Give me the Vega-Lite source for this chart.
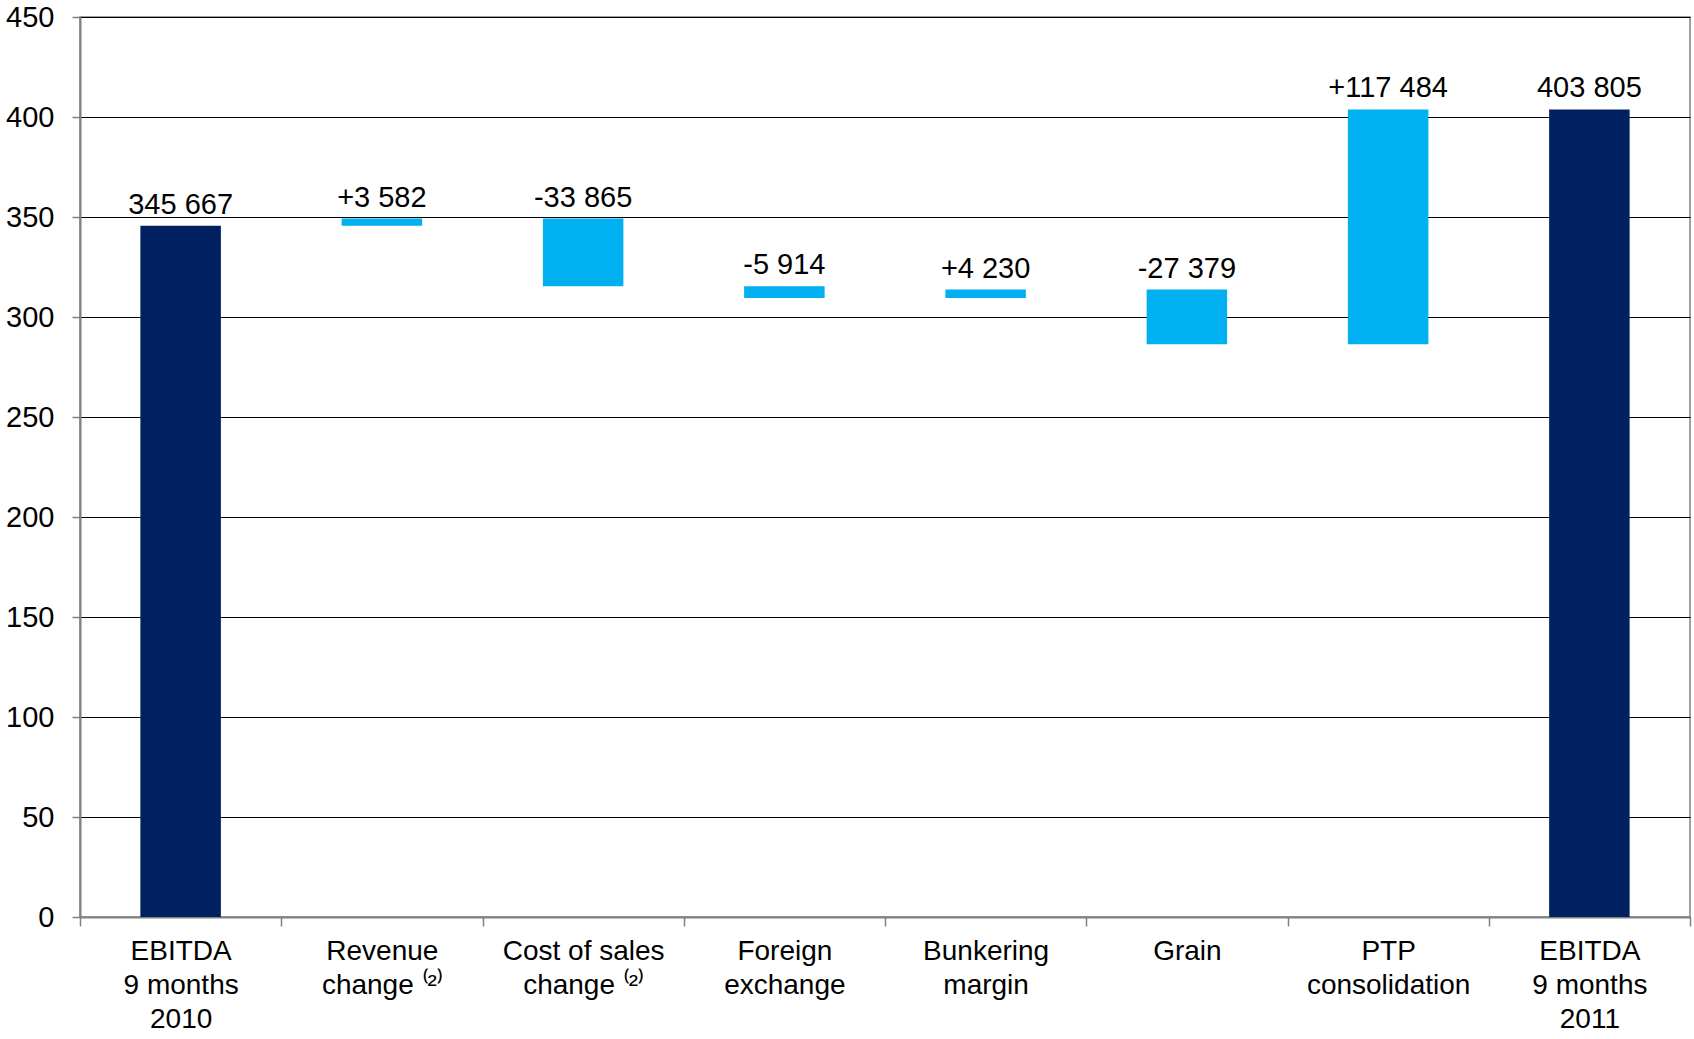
{
  "$schema": "https://vega.github.io/schema/vega-lite/v6.json",
  "width": 1610,
  "height": 900,
  "autosize": "none",
  "padding": {"left": 80, "top": 17, "right": 4, "bottom": 122},
  "background": "white",
  "config": {
    "view": {"stroke": "#808080", "strokeWidth": 1.5},
    "font": "Liberation Sans"
  },
  "data": {
    "values": [
      {"cat": "EBITDA|9 months|2010", "start": 0, "end": 345.667, "top": 345.667, "label": "345 667", "kind": "total"},
      {"cat": "Revenue|change ⁽²⁾", "start": 345.667, "end": 349.249, "top": 349.249, "label": "+3 582", "kind": "change"},
      {"cat": "Cost of sales|change ⁽²⁾", "start": 349.249, "end": 315.384, "top": 349.249, "label": "-33 865", "kind": "change"},
      {"cat": "Foreign|exchange", "start": 315.384, "end": 309.47, "top": 315.384, "label": "-5 914", "kind": "change"},
      {"cat": "Bunkering|margin", "start": 309.47, "end": 313.7, "top": 313.7, "label": "+4 230", "kind": "change"},
      {"cat": "Grain", "start": 313.7, "end": 286.321, "top": 313.7, "label": "-27 379", "kind": "change"},
      {"cat": "PTP|consolidation", "start": 286.321, "end": 403.805, "top": 403.805, "label": "+117 484", "kind": "change"},
      {"cat": "EBITDA|9 months|2011", "start": 0, "end": 403.805, "top": 403.805, "label": "403 805", "kind": "total"}
    ]
  },
  "encoding": {
    "x": {
      "field": "cat",
      "type": "nominal",
      "sort": null,
      "scale": {"paddingInner": 0, "paddingOuter": 0},
      "axis": {
        "title": null,
        "labelAngle": 0,
        "labelExpr": "split(datum.label, '|')",
        "labelFont": "Liberation Sans",
        "labelFontSize": 28,
        "labelLineHeight": 34,
        "labelColor": "black",
        "labelBaseline": "top",
        "labelPadding": 11,
        "tickBand": "extent",
        "tickSize": 9,
        "tickColor": "#808080",
        "tickWidth": 1.5,
        "domainColor": "#808080",
        "domainWidth": 2,
        "grid": false
      }
    }
  },
  "layer": [
    {
      "mark": {"type": "bar", "width": {"band": 0.4}},
      "encoding": {
        "y": {
          "field": "start",
          "type": "quantitative",
          "scale": {"domain": [0, 450], "nice": false, "zero": true},
          "axis": {
            "title": null,
            "values": [0, 50, 100, 150, 200, 250, 300, 350, 400, 450],
            "labelFontSize": 29,
            "labelColor": "black",
            "labelPadding": 18,
            "tickSize": 8,
            "tickColor": "#808080",
            "tickWidth": 1.5,
            "domainColor": "#808080",
            "domainWidth": 2,
            "grid": true,
            "gridColor": "#000000",
            "gridWidth": 1
          }
        },
        "y2": {"field": "end"},
        "color": {
          "field": "kind",
          "type": "nominal",
          "scale": {"domain": ["total", "change"], "range": ["#002060", "#00B0F0"]},
          "legend": null
        }
      }
    },
    {
      "mark": {"type": "text", "baseline": "alphabetic", "dy": -12, "fontSize": 29, "color": "black"},
      "encoding": {
        "y": {"field": "top", "type": "quantitative"},
        "text": {"field": "label"}
      }
    }
  ]
}
